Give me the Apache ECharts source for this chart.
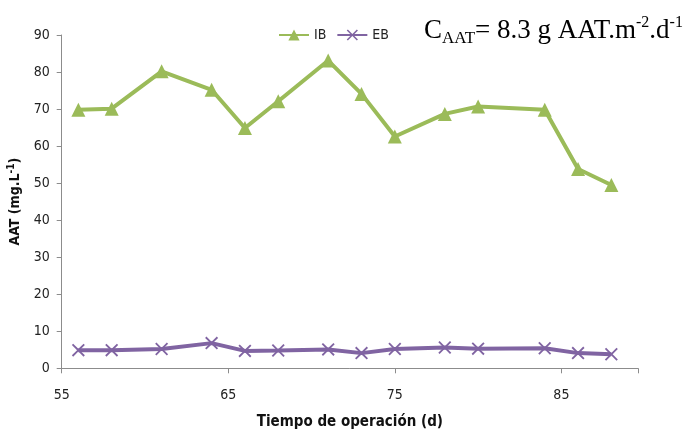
<!DOCTYPE html>
<html><head><meta charset="utf-8">
<script src="https://cdn.jsdelivr.net/npm/echarts@6/dist/echarts.min.js"></script>
<style>html,body{margin:0;padding:0;background:#fff}#c{width:691px;height:429px}</style>
</head><body><div id="c"></div>
<script>
const days = [56, 58, 61, 64, 66, 68, 71, 73, 75, 78, 80, 84, 86, 88];
const ibValues = [69.8, 70.1, 80.2, 75.2, 64.9, 72.1, 83.1, 74.1, 62.6, 68.7, 70.7, 69.8, 53.8, 49.5];
const ebValues = [4.9, 4.9, 5.2, 6.8, 4.7, 4.8, 5.1, 4.1, 5.2, 5.6, 5.3, 5.4, 4.1, 3.8];
const xTicks = [55, 65, 75, 85];
const yTicks = [0, 10, 20, 30, 40, 50, 60, 70, 80, 90];

const font = "'Liberation Sans Narrow','DejaVu Sans Condensed','Open Sans',sans-serif";
const serif = "'Liberation Serif','Times New Roman',serif";
const crossPath = 'path://M0,1L1,0L5,4L9,0L10,1L6,5L10,9L9,10L5,6L1,10L0,9L4,5Z';
const pair = (xs, ys) => xs.map((x, i) => [x, ys[i]]);

const chart = echarts.init(document.getElementById('c'));
chart.setOption({
  animation: false,
  backgroundColor: '#fff',
  title: {
    text: '{b|C}{s|AAT}{b|= 8.3 g AAT.m}{p|-2}{b|.d}{p|-1}',
    left: 419, top: 10,
    textStyle: {
      fontWeight: 'normal',
      rich: {
        b: {fontFamily: serif, fontSize: 27, fontWeight: 'normal', color: '#000', lineHeight: 32, verticalAlign: 'middle'},
        s: {fontFamily: serif, fontSize: 17, fontWeight: 'normal', color: '#000', lineHeight: 17, verticalAlign: 'bottom'},
        p: {fontFamily: serif, fontSize: 16, fontWeight: 'normal', color: '#000', lineHeight: 16, verticalAlign: 'top'}
      }
    }
  },
  legend: {
    left: 273, top: 23,
    itemWidth: 30, itemHeight: 14, itemGap: 10,
    textStyle: {fontFamily: font, fontSize: 14, color: '#222'},
    data: ['IB', 'EB']
  },
  grid: {left: 61.7, right: 53, top: 35, bottom: 60.7, outerBoundsMode: 'none', containLabel: false},
  xAxis: {
    type: 'value', min: 55, max: 89.6, interval: 10,
    name: 'Tiempo de operación (d)', nameLocation: 'middle', nameGap: 46,
    nameTextStyle: {fontFamily: font, fontSize: 15, fontWeight: 'bold', color: '#111'},
    axisLine: {show: true, lineStyle: {color: '#8c8c8c', width: 1}},
    axisTick: {show: true, length: 5, lineStyle: {color: '#8c8c8c'}},
    axisLabel: {fontFamily: font, fontSize: 14, color: '#222', margin: 20, customValues: xTicks},
    splitLine: {show: false}
  },
  yAxis: {
    type: 'value', min: 0, max: 90, interval: 10,
    name: '{n|AAT (mg.L}{p|-1}{n|)}', nameLocation: 'middle', nameGap: 35,
    nameTextStyle: {
      rich: {
        n: {fontFamily: font, fontSize: 14, fontWeight: 'bold', color: '#111', lineHeight: 18},
        p: {fontFamily: font, fontSize: 10, fontWeight: 'bold', color: '#111', verticalAlign: 'top', lineHeight: 10}
      }
    },
    axisLine: {show: true, lineStyle: {color: '#8c8c8c', width: 1}},
    axisTick: {show: true, length: 5, lineStyle: {color: '#8c8c8c'}},
    axisLabel: {fontFamily: font, fontSize: 14, color: '#222', margin: 12, customValues: yTicks},
    splitLine: {show: false}
  },
  series: [
    {
      name: 'IB', type: 'line', data: pair(days, ibValues),
      symbol: 'triangle', symbolSize: 14, showAllSymbol: true,
      lineStyle: {color: '#9BBB59', width: 4},
      itemStyle: {color: '#9BBB59'}
    },
    {
      name: 'EB', type: 'line', data: pair(days, ebValues),
      symbol: crossPath, symbolSize: 13, showAllSymbol: true,
      lineStyle: {color: '#8064A2', width: 4},
      itemStyle: {color: '#8064A2'}
    }
  ]
});
</script></body></html>
